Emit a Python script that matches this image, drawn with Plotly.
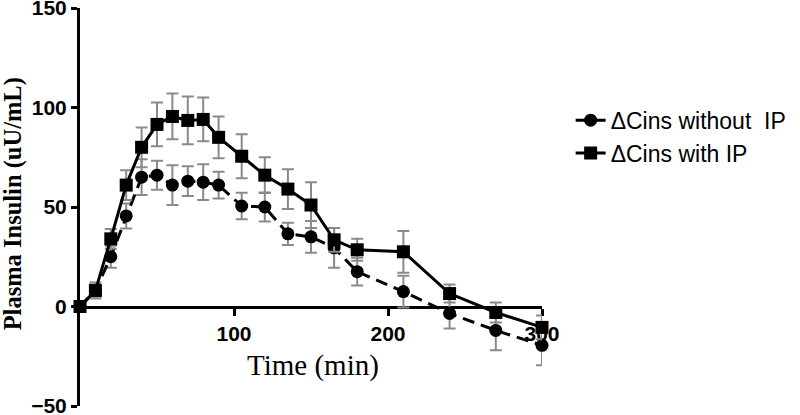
import plotly.graph_objects as go

time_min = [0, 10, 20, 30, 40, 50, 60, 70, 80, 90, 105, 120, 135, 150, 165, 180, 210, 240, 270, 300]
without_ip = [0, 8, 25, 45.5, 65, 66, 61, 63, 62.5, 61, 50.5, 50, 36.5, 35, 29.5, 17.5, 7.5, -3.5, -12, -19.5]
without_ip_err = [0, 3, 5.5, 6.3, 9, 7.3, 10, 7.5, 9, 6.7, 6.7, 7.3, 5.6, 8, 10, 7, 8, 7.5, 10, 10]
with_ip = [0, 8, 34, 61, 80, 91.5, 95.5, 93.5, 94, 85, 75.5, 66, 59, 51, 33.5, 28.5, 27.5, 6.5, -3, -10.5]
with_ip_err = [0, 4, 5, 7.5, 10, 11, 11.5, 12, 11, 10.5, 11, 9, 10, 11.5, 6, 5.5, 10.5, 4.5, 5, 6]

x_ticks = [100, 200, 300]
y_ticks = [-50, 0, 50, 100, 150]

err_style = dict(type="data", visible=True, color="#8a8a8a", thickness=2, width=6)

fig = go.Figure()
fig.add_trace(go.Scatter(
    x=time_min, y=without_ip, name="ΔCins without  IP",
    mode="lines+markers",
    line=dict(color="black", width=3, dash="12px,7px"),
    marker=dict(symbol="circle", size=13, color="black"),
    error_y=dict(array=without_ip_err, **err_style),
    cliponaxis=False,
))
fig.add_trace(go.Scatter(
    x=time_min, y=with_ip, name="ΔCins with IP",
    mode="lines+markers",
    line=dict(color="black", width=3),
    marker=dict(symbol="square", size=13, color="black"),
    error_y=dict(array=with_ip_err, **err_style),
    cliponaxis=False,
))

fig.update_layout(
    width=800, height=415,
    margin=dict(l=80, r=254, t=8, b=9),
    paper_bgcolor="white", plot_bgcolor="white",
    showlegend=True,
    legend=dict(x=1.062, y=0.772, xanchor="left", yanchor="top",
                font=dict(family="Arial, Liberation Sans", size=23, color="black"),
                bgcolor="rgba(0,0,0,0)", itemwidth=30),
    xaxis=dict(range=[0, 300], tickvals=x_ticks, showgrid=False, zeroline=False,
               showline=True, linewidth=3, linecolor="black",
               ticks="outside", ticklen=7, tickwidth=3, tickcolor="black",
               tickfont=dict(family="Arial, Liberation Sans", size=21, color="black", weight="bold"),
               anchor="free", position=0.25, layer="below traces", automargin=False),
    yaxis=dict(range=[-50, 150], tickvals=y_ticks, showgrid=False, zeroline=False,
               showline=True, linewidth=3, linecolor="black",
               ticks="outside", ticklen=6, tickwidth=3, tickcolor="black",
               tickfont=dict(family="Arial, Liberation Sans", size=21, color="black", weight="bold"),
               layer="below traces", automargin=False, ticklabeloverflow="allow"),
    annotations=[
        dict(text="Time (min)", xref="paper", yref="paper", x=0.504, y=0.103,
             showarrow=False, xanchor="center", yanchor="middle",
             font=dict(family="Liberation Serif, Times New Roman", size=29, color="black")),
        dict(text="<b>Plasma Insulin (uU/mL)</b>", xref="paper", yref="paper", x=-0.146, y=0.508,
             showarrow=False, xanchor="center", yanchor="middle", textangle=-90,
             font=dict(family="Liberation Serif, Times New Roman", size=24.5, color="black")),
    ],
)

fig.write_html("out.html", config={"displayModeBar": False},
               post_script="document.body.style.margin='0';document.body.style.padding='0';")
